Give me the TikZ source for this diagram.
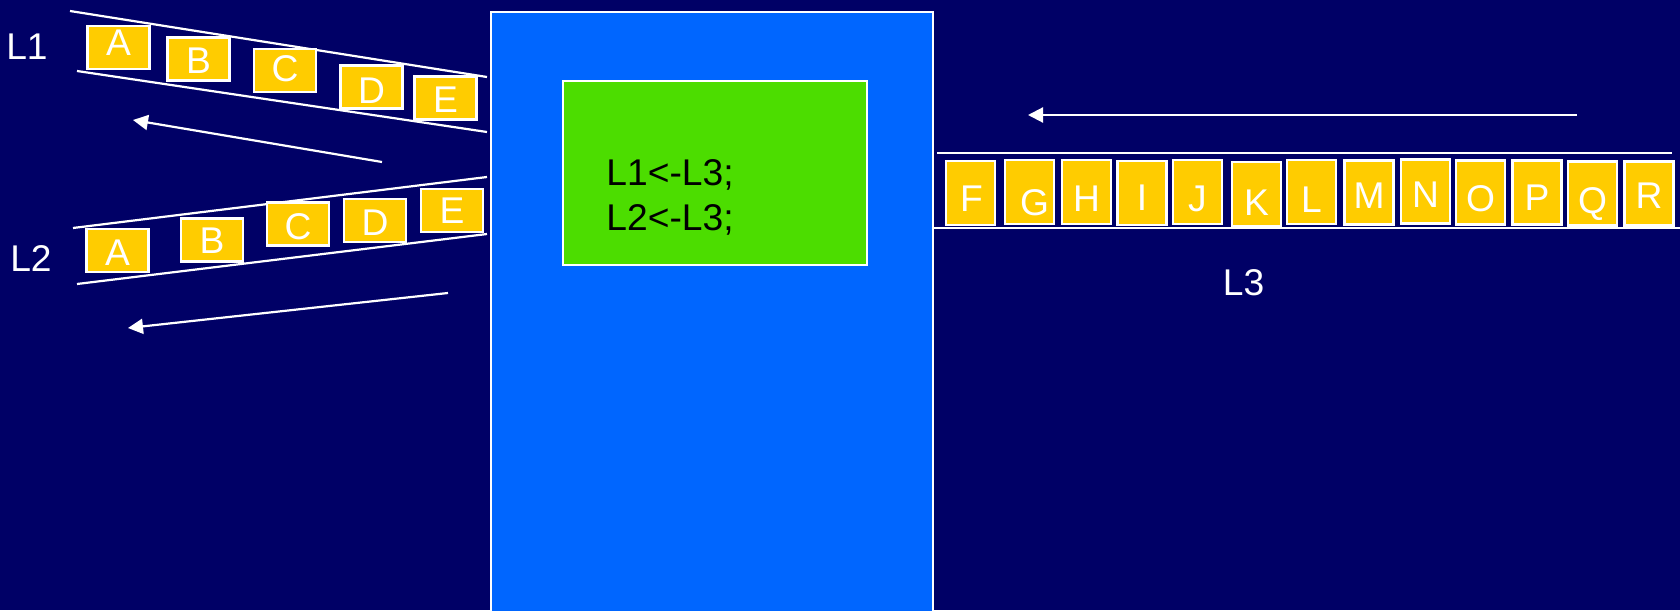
\documentclass[tikz,border=0pt]{standalone}
\usepackage{fontspec}
\setmainfont{Liberation Sans}
\usetikzlibrary{arrows.meta}
\definecolor{navy}{RGB}{0,0,102}
\definecolor{panelblue}{RGB}{0,102,255}
\definecolor{codegreen}{RGB}{76,221,0}
\definecolor{itemyellow}{RGB}{255,204,0}

\begin{document}
\begin{tikzpicture}[x=0.5pt,y=-0.5pt,
  item/.style={draw=white, line width=1.2pt, fill=itemyellow, inner sep=0pt},
  wide/.style={item, minimum width=31pt, minimum height=21.5pt},
  tall/.style={item, minimum width=24.5pt, minimum height=32pt},
  letter/.style={text=white, font=\fontsize{18.6}{18.6}\selectfont, inner sep=0pt,
                 text height=13.3pt, text depth=0pt},
  tag/.style={letter},
  rail/.style={draw=white, line width=1.1pt},
  flow/.style={draw=white, line width=1.1pt, -{Triangle[length=7.5pt,width=7.5pt]}},
  code/.style={text=black, font=\fontsize{18.6}{18.6}\selectfont, inner sep=0pt, anchor=base west}
]
% page and background
\fill[navy] (0,0) rectangle (1680,610);
\useasboundingbox (0,0) rectangle (1680,610);
\clip (0,0) rectangle (1680,610);

% central processing panel with the code block
\node[draw=white, line width=1pt, fill=panelblue, inner sep=0pt, anchor=north west,
      minimum width=221pt, minimum height=310pt] (panel) at (490,11) {};
\node[draw=white, line width=1pt, fill=codegreen, inner sep=0pt, anchor=north west,
      minimum width=152pt, minimum height=92pt] (codebox) at (562,80) {};
\node[code] (c1) at (606,185) {L1<-L3;};
\node[code] (c2) at (606,230) {L2<-L3;};

% list L1: rails, items and direction of flow
\coordinate (l1a) at (70,11);  \coordinate (l1b) at (487,77);
\coordinate (l1c) at (77,71);  \coordinate (l1d) at (487,132);
\draw[rail] (l1a) -- (l1b);
\draw[rail] (l1c) -- (l1d);
\foreach \n/\x/\y/\dx/\dy in {A/118.5/47.5/0/-5, B/198.5/59/0/1, C/285/70.5/0/-2,
                              D/371.5/87/0/3, E/445.5/98/0/1.5} {
  \node[wide] (u\n) at (\x,\y) {};
  \node[letter] (u\n-t) at ([shift={(\dx,\dy)}]u\n.center) {\n};
}
\coordinate (f1s) at (382,162); \coordinate (f1e) at (133,120);
\draw[flow] (f1s) -- (f1e);
\node[tag] (nameL1) at (27,46) {L1};

% list L2
\coordinate (l2a) at (73,228); \coordinate (l2b) at (487,177);
\coordinate (l2c) at (77,284); \coordinate (l2d) at (487,234);
\draw[rail] (l2a) -- (l2b);
\draw[rail] (l2c) -- (l2d);
\foreach \n/\x/\y/\dx/\dy in {A/117.5/250.5/0/2, B/212/240/0/0.5, C/298/224/0/2,
                              D/375/220.5/0/2, E/452/210.5/0/0} {
  \node[wide] (v\n) at (\x,\y) {};
  \node[letter] (v\n-t) at ([shift={(\dx,\dy)}]v\n.center) {\n};
}
\coordinate (f2s) at (448,293); \coordinate (f2e) at (128,328);
\draw[flow] (f2s) -- (f2e);
\node[tag] (nameL2) at (31,258.5) {L2};

% list L3
\coordinate (l3a) at (937,153); \coordinate (l3b) at (1672,153);
\coordinate (l3c) at (934,228); \coordinate (l3d) at (1680,228);
\draw[rail] (l3a) -- (l3b);
\draw[rail] (l3c) -- (l3d);
\foreach \n/\x/\y/\dx/\dy in {F/970.5/193/1/5, G/1029.5/192/5/10, H/1086.5/192/0/6,
                              I/1142/193/0/4, J/1197.5/192/0/6, K/1256.5/194/0/8,
                              L/1311.5/192/0/7, M/1369/192.5/0/3, N/1425.5/191.5/0/3,
                              O/1480.5/192.5/0/6, P/1537/192.5/0/5, Q/1592.5/193.5/0/7,
                              R/1649/193.5/0/2} {
  \node[tall] (w\n) at (\x,\y) {};
  \node[letter] (w\n-t) at ([shift={(\dx,\dy)}]w\n.center) {\n};
}
\coordinate (f3s) at (1577,115); \coordinate (f3e) at (1028,115);
\draw[flow] (f3s) -- (f3e);
\node[tag] (nameL3) at (1243.5,282.5) {L3};
\end{tikzpicture}
\end{document}
